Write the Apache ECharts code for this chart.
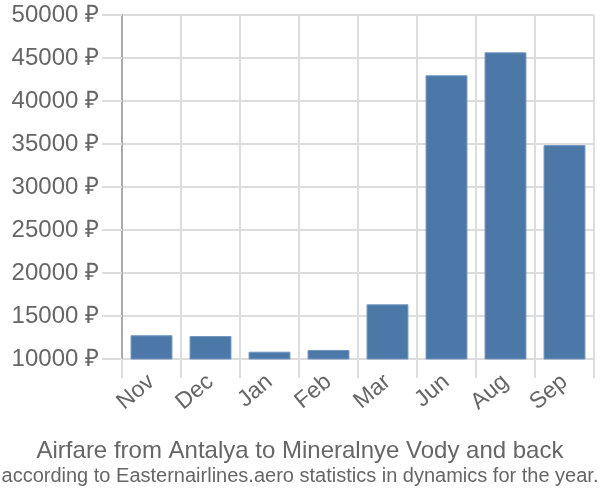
<!DOCTYPE html>
<html><head><meta charset="utf-8">
<script src="https://cdn.jsdelivr.net/npm/echarts@6/dist/echarts.min.js"></script>
<style>html,body{margin:0;padding:0;background:#fff}#c{width:600px;height:500px}</style>
</head><body><div id="c"></div>
<script>
const categories = ['Nov','Dec','Jan','Feb','Mar','Jun','Aug','Sep'];
const prices = [12760, 12670, 10850, 11050, 16360, 42990, 45660, 34880];
const yMin = 10000, yMax = 50000, yStep = 5000;
const titleText = 'Airfare from Antalya to Mineralnye Vody and back';
const subText = 'according to Easternairlines.aero statistics in dynamics for the year.';

const chart = echarts.init(document.getElementById('c'), null, {renderer:'canvas'});
const font = 'Liberation Sans, Arial, sans-serif';
chart.setOption({
  animation: false,
  backgroundColor: '#fff',
  title: [
    {text: titleText, left: 'center', top: 434, textStyle:{fontFamily: font, fontSize: 24, fontWeight: 'normal', color: '#666'}},
    {text: subText, left: 'center', top: 461, textStyle:{fontFamily: font, fontSize: 20, fontWeight: 'normal', color: '#666'}}
  ],
  grid: {left: 122, right: 6, top: 15, bottom: 141, containLabel: false},
  xAxis: {
    type: 'category', data: categories, boundaryGap: true,
    axisLine: {show: false},
    axisTick: {show: true, length: 19, interval: 0, lineStyle:{color:'#ddd', width: 2}},
    splitLine: {show: true, interval: 0, lineStyle:{color:'#ddd', width: 2}},
    axisLabel: {rotate: 40, margin: 20, fontFamily: font, fontSize: 23, color: '#666', interval: 0}
  },
  yAxis: {
    type: 'value', min: yMin, max: yMax, interval: yStep,
    axisLine: {show: true, lineStyle:{color:'#aaa', width: 2}},
    axisTick: {show: true, length: 20, lineStyle:{color:'#ddd', width: 2}},
    splitLine: {show: true, lineStyle:{color:'#ddd', width: 2}},
    axisLabel: {margin: 23, fontFamily: font, fontSize: 24, color: '#666', formatter: v => v + ' ₽'}
  },
  series: [{
    type: 'bar', data: prices, barCategoryGap: '29%',
    itemStyle: {color: '#4c78a8', borderColor: '#7096c2', borderWidth: 1}
  }]
});
</script></body></html>
